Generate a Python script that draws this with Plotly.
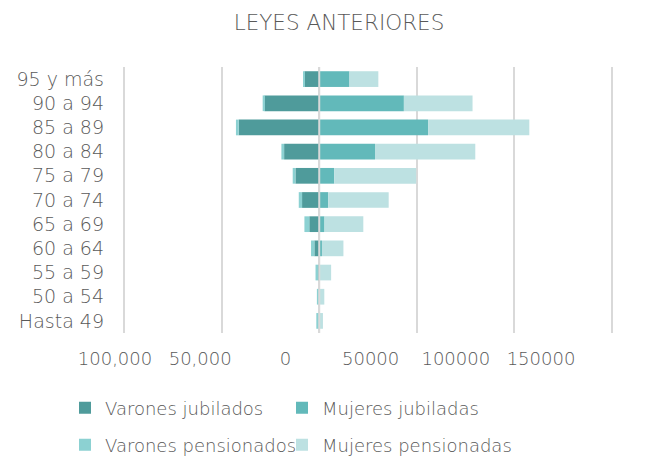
import plotly.graph_objects as go

categories = ["95 y más", "90 a 94", "85 a 89", "80 a 84", "75 a 79", "70 a 74",
              "65 a 69", "60 a 64", "55 a 59", "50 a 54", "Hasta 49"]
varones_jubilados = [7500, 28000, 41300, 18000, 12200, 8800, 5100, 2500, 600, 0, 0]
mujeres_jubiladas = [15500, 43400, 55800, 28600, 7700, 4600, 2700, 1400, 200, 0, 0]
varones_pensionados = [500, 1000, 1400, 1400, 1400, 1700, 2500, 1700, 1300, 1200, 1500]
mujeres_pensionadas = [14800, 35200, 51900, 51400, 42000, 31000, 19900, 11000, 5900, 2600, 1900]
tick_vals = [-100000, -50000, 0, 50000, 100000, 150000]
tick_text = ["100,000", "50,000", "0", "50000", "100000", "150000"]

# the page body has an 8px margin, so the figure is drawn 8px in from the window edge
W, H = 650, 448
FONT = "DejaVu Sans"
WEIGHT = 200
GRAY = "#595959"
C_VJ, C_MJ, C_VP, C_MP = "#4F9B9B", "#62B9BA", "#8CD1D2", "#BDE1E2"

def f(size):
    return dict(family=FONT, size=size, color=GRAY, weight=WEIGHT)

fig = go.Figure()
fig.add_trace(go.Bar(y=categories, x=[-v for v in varones_jubilados], orientation="h",
                     name="Varones jubilados", marker_color=C_VJ, legend="legend"))
fig.add_trace(go.Bar(y=categories, x=mujeres_jubiladas, orientation="h",
                     name="Mujeres jubiladas", marker_color=C_MJ, legend="legend2"))
fig.add_trace(go.Bar(y=categories, x=[-v for v in varones_pensionados], orientation="h",
                     name="Varones pensionados", marker_color=C_VP, legend="legend3"))
fig.add_trace(go.Bar(y=categories, x=mujeres_pensionadas, orientation="h",
                     name="Mujeres pensionadas", marker_color=C_MP, legend="legend4"))
# invisible helper so the tick-label axis is rendered
fig.add_trace(go.Scatter(x=tick_vals, y=[categories[0]] * len(tick_vals), xaxis="x2",
                         mode="markers", marker=dict(opacity=0), showlegend=False,
                         hoverinfo="skip"))

y_top, y_bot = 59, 325
dom_y = [1 - y_bot / H, 1 - y_top / H]

def leg(xpx, ypx):
    return dict(orientation="h", x=xpx / W, xanchor="left", y=1 - ypx / H, yanchor="middle",
                font=f(18), bgcolor="rgba(0,0,0,0)")

fig.update_layout(
    template="none",
    width=W, height=H,
    margin=dict(l=0, r=0, t=0, b=0, autoexpand=False),
    paper_bgcolor="white", plot_bgcolor="rgba(0,0,0,0)",
    barmode="relative", bargap=0.35,
    font=f(18),
    title=dict(text="LEYES ANTERIORES", x=331 / W, xanchor="center",
               y=1 - 14 / H, yanchor="middle", font=f(21.5)),
    xaxis=dict(domain=[115 / W, 605 / W], range=[-100600, 150600],
               tickvals=tick_vals, showticklabels=False, ticks="",
               showgrid=True, gridcolor="#D9D9D9", gridwidth=2,
               zeroline=False, showline=False, fixedrange=True, automargin=False),
    xaxis2=dict(domain=[107 / W, 533 / W], range=[-100000, 150000], anchor="y",
                tickvals=tick_vals, ticktext=tick_text, showgrid=False, ticks="",
                zeroline=False, showline=False, ticklabelstandoff=13,
                tickfont=f(18), automargin=False),
    yaxis=dict(domain=dom_y, range=[len(categories) - 0.5, -0.5], autorange=False,
               showgrid=False, zeroline=False,
               tickmode="array", tickvals=categories,
               ticks="", showline=False, ticklabelstandoff=18, tickfont=f(19),
               automargin=False),
    legend=leg(57, 400),
    legend2=leg(274, 400),
    legend3=leg(57, 437),
    legend4=leg(274, 437),
    shapes=[dict(type="line", xref="x", x0=0, x1=0, yref="paper", y0=dom_y[0], y1=dom_y[1],
                 line=dict(color="#D9D9D9", width=2), layer="above")],
)

fig.write_html("out.html")
